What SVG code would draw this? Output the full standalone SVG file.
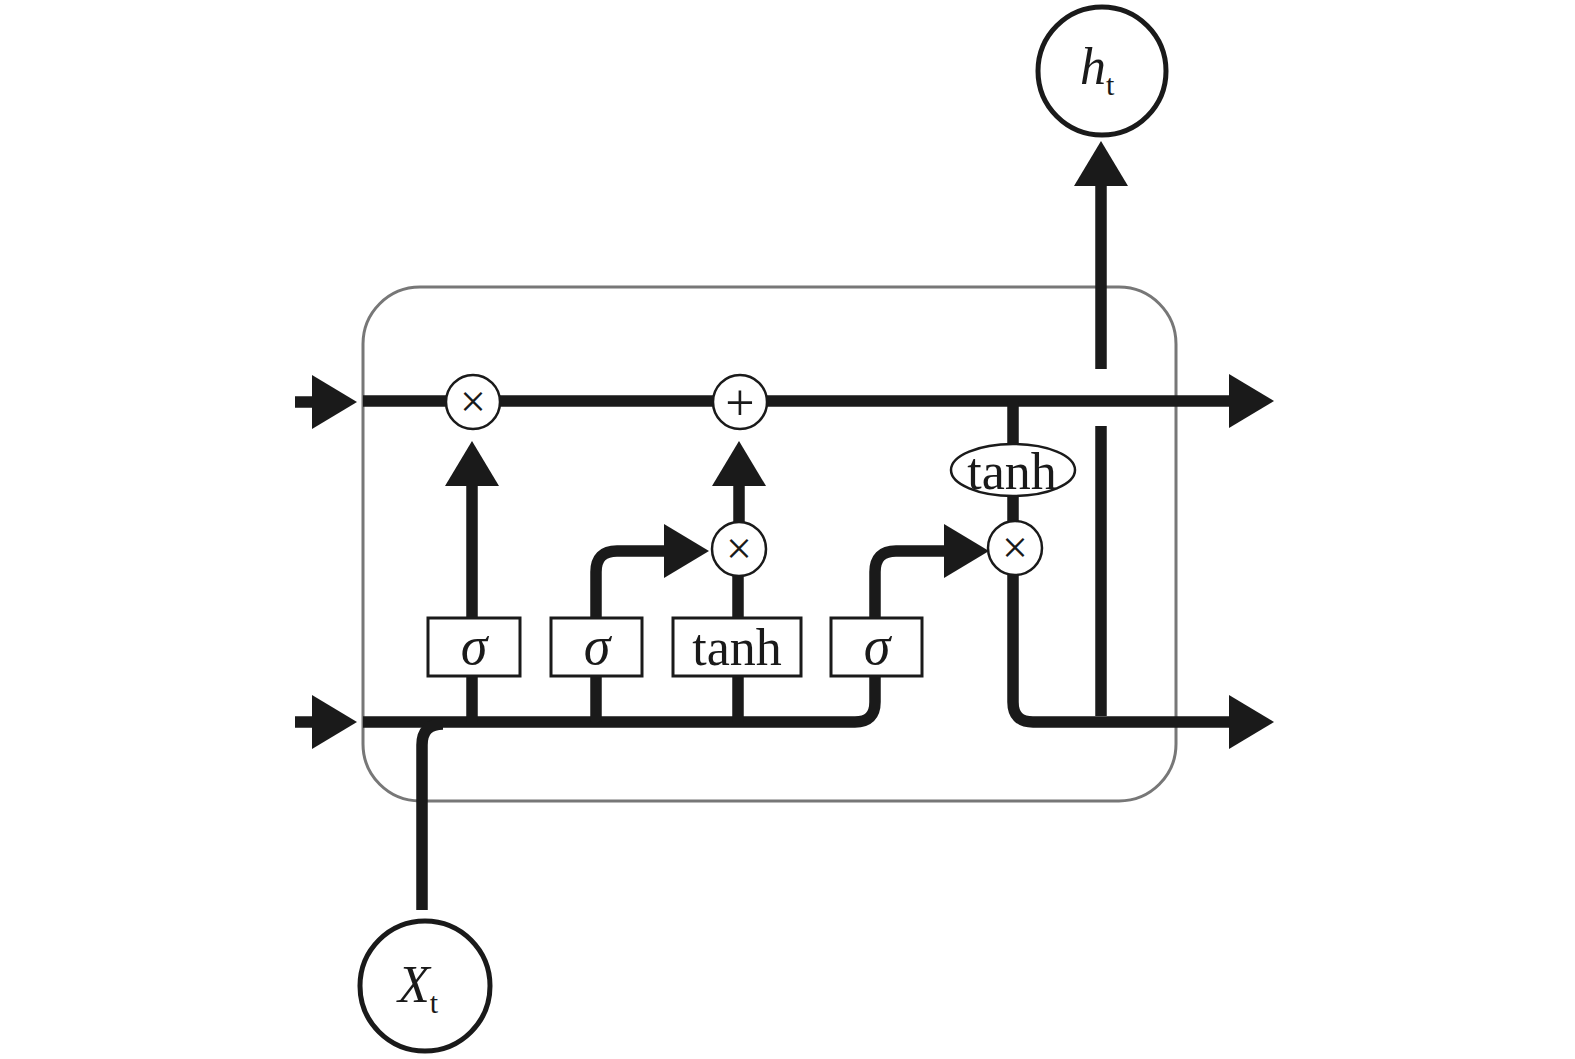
<svg xmlns="http://www.w3.org/2000/svg" width="1575" height="1059" viewBox="0 0 1575 1059">
<style>
.ln{fill:none;stroke:#1a1a1a;stroke-width:11.5;stroke-linecap:butt;stroke-linejoin:round}
.op{fill:#fff;stroke:#1a1a1a;stroke-width:2.5}
.bx{fill:#fff;stroke:#1a1a1a;stroke-width:3}
.io{fill:#fff;stroke:#1a1a1a;stroke-width:5}
.t{font-family:"Liberation Serif","Times New Roman",serif;fill:#1a1a1a}
.i{font-style:italic}
.sym{font-family:"Liberation Serif","Times New Roman",serif;fill:#1a1a1a;text-anchor:middle}
</style>
<defs>
<marker id="ah" markerUnits="userSpaceOnUse" viewBox="0 0 45 54" refX="1" refY="27" markerWidth="45" markerHeight="54" orient="auto">
<path d="M0,0 L45,27 L0,54 Z" fill="#1a1a1a"/>
</marker>
</defs>
<rect width="1575" height="1059" fill="#fff"/>
<g id="cell">
<rect x="363" y="287" width="813" height="514" rx="57" ry="57" fill="none" stroke="#777" stroke-width="3"/>
</g>
<g id="connectors">
<path class="ln" d="M295,402 H313" marker-end="url(#ah)"/>
<path class="ln" d="M363,401 H1230" marker-end="url(#ah)"/>
<path class="ln" d="M295,722 H313" marker-end="url(#ah)"/>
<path class="ln" d="M363,722 H855 Q875,722 875,702 V676"/>
<path class="ln" d="M422,910 V745 Q422,724 443,724"/>
<path class="ln" d="M472,722 V676"/>
<path class="ln" d="M472,618 V485" marker-end="url(#ah)"/>
<path class="ln" d="M596,722 V676"/>
<path class="ln" d="M596,618 V572 Q596,551 617,551 H665" marker-end="url(#ah)"/>
<path class="ln" d="M738,722 V676"/>
<path class="ln" d="M738,618 V560"/>
<path class="ln" d="M739,540 V485" marker-end="url(#ah)"/>
<path class="ln" d="M875,618 V572 Q875,551 896,551 H945" marker-end="url(#ah)"/>
<path class="ln" d="M1013,401 V702 Q1013,722 1033,722 H1230" marker-end="url(#ah)"/>
<path class="ln" d="M1101,716 V426" stroke-linecap="round"/>
<path class="ln" d="M1101,369 V185" stroke-linecap="round" marker-end="url(#ah)"/>
</g>
<g id="forget-mul"><circle class="op" cx="473" cy="402" r="27"/><text class="sym" x="473" y="417" font-size="46">×</text></g>
<g id="cell-add"><circle class="op" cx="740" cy="402" r="27"/><text class="sym" x="740" y="420" font-size="52">+</text></g>
<g id="input-mul"><circle class="op" cx="739" cy="549" r="27"/><text class="sym" x="739" y="564" font-size="46">×</text></g>
<g id="output-mul"><circle class="op" cx="1015" cy="548" r="27"/><text class="sym" x="1015" y="563" font-size="46">×</text></g>
<g id="tanh-out"><ellipse class="op" cx="1013" cy="470" rx="62" ry="26"/><text class="sym" x="1012" y="489" font-size="52">tanh</text></g>
<g id="forget-gate"><rect class="bx" x="428" y="618" width="92" height="58"/><text class="sym i" x="474" y="664" font-size="54">σ</text></g>
<g id="input-gate"><rect class="bx" x="551" y="618" width="91" height="58"/><text class="sym i" x="597" y="664" font-size="54">σ</text></g>
<g id="candidate"><rect class="bx" x="673" y="618" width="128" height="58"/><text class="sym" x="737" y="665" font-size="52">tanh</text></g>
<g id="output-gate"><rect class="bx" x="831" y="618" width="91" height="58"/><text class="sym i" x="877" y="664" font-size="54">σ</text></g>
<g id="h-t"><circle class="io" cx="1102" cy="71" r="64"/><text class="t" x="1080" y="84" font-size="52"><tspan class="i">h</tspan><tspan font-size="30" dy="11">t</tspan></text></g>
<g id="x-t"><circle class="io" cx="425" cy="986" r="65"/><text class="t" x="398" y="1002" font-size="52"><tspan class="i">X</tspan><tspan font-size="30" dy="11">t</tspan></text></g>
</svg>
